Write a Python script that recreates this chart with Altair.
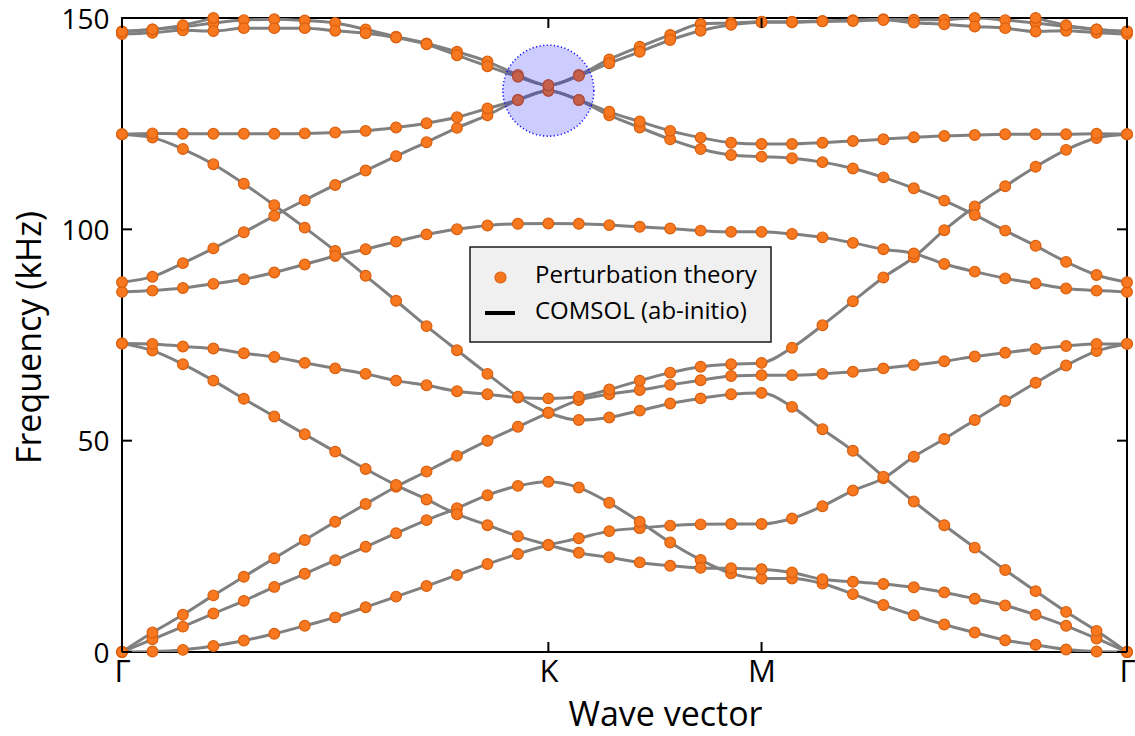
import altair as alt
import pandas as pd

# ---------------- data ----------------
k_index = list(range(34))              # sampling index along the Γ-K-M-Γ path
sym_positions = [0, 14, 21, 33]        # Γ, K, M, Γ
sym_labels = ["Γ", "K", "M", "Γ"]
y_ticks = [0, 50, 100, 150]

band_01 = [0, 0.1, 0.5, 1.4, 2.7, 4.3, 6.2, 8.2, 10.6, 13.1, 15.6, 18.2, 20.8, 23.2, 25.3,
           26.9, 28.6, 29.3, 29.9, 30.2, 30.3, 30.3,
           31.6, 34.5, 38.2, 41.1, 46.2, 50.4, 54.9, 59.4, 63.7, 67.8, 71.2, 72.9]
band_02 = [0, 3.0, 6.0, 9.1, 12.1, 15.4, 18.5, 21.7, 24.9, 28.1, 31.2, 34.0, 37.1, 39.3, 40.3,
           38.9, 35.3, 30.8, 25.9, 21.8, 18.6, 17.4,
           17.4, 16.2, 13.7, 11.1, 8.7, 6.5, 4.6, 2.8, 1.7, 0.6, 0.1, 0]
band_03 = [0, 4.6, 8.8, 13.4, 17.8, 22.2, 26.5, 30.8, 35.0, 39.1, 42.7, 46.4, 50.0, 53.3, 56.6,
           59.6, 61.0, 62.0, 63.2, 64.3, 65.3, 65.5,
           65.5, 65.8, 66.3, 67.1, 67.9, 68.8, 69.9, 70.8, 71.7, 72.4, 72.9, 72.9]
band_04 = [73.0, 71.3, 68.1, 64.2, 59.9, 55.7, 51.5, 47.4, 43.3, 39.5, 36.1, 32.6, 30.0, 27.4, 25.3,
           23.5, 22.4, 21.2, 20.4, 19.9, 19.8, 19.6,
           18.8, 17.2, 16.6, 16.1, 15.3, 14.1, 12.6, 11.0, 8.8, 6.2, 3.2, 0]
band_05 = [73.0, 72.9, 72.3, 71.8, 70.7, 69.8, 68.4, 67.1, 65.8, 64.2, 63.1, 61.7, 61.0, 60.2, 60.0,
           60.4, 62.1, 64.2, 66.1, 67.5, 68.1, 68.4,
           72.0, 77.3, 83.0, 88.6, 93.4, 99.8, 105.4, 110.2, 114.8, 118.8, 121.6, 122.5]
band_06 = [122.5, 121.7, 119.0, 115.4, 110.8, 105.7, 100.4, 94.9, 89.0, 83.1, 77.1, 71.4, 65.8, 60.4, 56.6,
           54.9, 55.5, 57.1, 58.8, 60.0, 61.0, 61.3,
           58.0, 52.7, 47.6, 41.5, 35.6, 30.0, 24.7, 19.4, 14.4, 9.5, 5.0, 0]
band_07 = [85.2, 85.5, 86.1, 87.1, 88.2, 89.8, 91.7, 93.7, 95.3, 97.1, 98.8, 100.0, 100.9, 101.3, 101.4,
           101.3, 101.0, 100.6, 100.2, 99.7, 99.4, 99.4,
           98.9, 98.1, 96.8, 95.3, 94.3, 91.8, 90.0, 88.4, 87.2, 86.0, 85.5, 85.2]
band_08 = [87.5, 88.8, 92.0, 95.5, 99.3, 103.2, 106.9, 110.5, 113.9, 117.3, 120.6, 124.0, 127.0, 130.6, 132.8,
           130.6, 127.0, 124.1, 121.3, 119.0, 117.6, 117.2,
           116.8, 115.9, 114.4, 112.3, 109.7, 106.8, 103.4, 99.7, 96.1, 92.3, 89.2, 87.5]
band_09 = [122.5, 122.7, 122.6, 122.6, 122.6, 122.6, 122.7, 122.9, 123.3, 124.1, 125.1, 126.5, 128.6, 130.6, 132.8,
           130.6, 127.8, 125.5, 123.3, 121.7, 120.5, 120.2,
           120.2, 120.5, 120.9, 121.3, 121.8, 122.1, 122.3, 122.5, 122.5, 122.5, 122.6, 122.5]
band_10 = [146.8, 147.3, 147.9, 148.8, 149.5, 149.7, 149.4, 148.8, 147.3, 145.6, 144.0, 142.0, 139.7, 136.5, 134.1,
           136.5, 140.2, 143.2, 146.0, 148.6, 148.8, 149.1,
           149.1, 149.3, 149.5, 149.7, 149.6, 149.6, 150.0, 149.5, 148.8, 148.0, 147.3, 146.8]
band_11 = [146.2, 146.5, 147.1, 146.9, 147.6, 147.6, 147.6, 147.0, 146.4, 145.4, 143.8, 141.2, 138.6, 136.1, 134.1,
           136.3, 139.3, 142.0, 144.8, 147.0, 148.4, 149.0,
           149.0, 149.2, 149.3, 149.5, 148.9, 148.5, 148.0, 147.6, 146.8, 147.0, 146.5, 146.2]

# band leaving the window (above 150 kHz) near both Γ points
tc_left_k = [0, 1, 2, 3, 4]
tc_left_f = [146.8, 147.3, 148.3, 150.0, 152.0]
tc_right_k = [29, 30, 31, 32, 33]
tc_right_f = [152.0, 150.0, 148.3, 147.3, 146.8]

highlight_k = [14]
highlight_f = [132.8]

legend_labels = ["Perturbation theory", "COMSOL (ab-initio)"]

# ---------------- table ----------------
full_bands = [band_01, band_02, band_03, band_04, band_05, band_06,
              band_07, band_08, band_09, band_10, band_11]
rows = []
for b, vals in enumerate(full_bands):
    for k, f in zip(k_index, vals):
        rows.append({"band": f"b{b+1}", "k": k, "f": f})
for k, f in zip(tc_left_k, tc_left_f):
    rows.append({"band": "tcL", "k": k, "f": f})
for k, f in zip(tc_right_k, tc_right_f):
    rows.append({"band": "tcR", "k": k, "f": f})
df = pd.DataFrame(rows)
df_pts = df[df["f"] <= 150.2]

label_expr = " : ".join(
    [f"datum.value == {p} ? '{l}'" for p, l in zip(sym_positions[1:3], sym_labels[1:3])]
) + " : 'Γ'"

FONT = "Open Sans"
x_axis = alt.Axis(values=sym_positions, labelExpr=label_expr, ticks=False, domain=False, grid=False,
                  labelFontSize=31, labelPadding=5, labelFlush=False, labelColor="black",
                  title="Wave vector", titleFontSize=34, titleFontWeight="normal", titleColor="black",
                  titleX=543, titleY=73, titleBaseline="alphabetic", titleAlign="center")
y_axis = alt.Axis(values=y_ticks, ticks=False, domain=False, grid=False,
                  labelFontSize=28, labelPadding=13, labelFlush=False, labelOffset=2,
                  labelColor="black",
                  title="Frequency (kHz)", titleFontSize=34, titleFontWeight="normal", titleColor="black",
                  titleX=-92, titleY=319, titleAngle=270, titleBaseline="middle", titleAlign="center")

X = alt.X("k:Q", scale=alt.Scale(domain=[0, 33], nice=False, zero=False), axis=x_axis)
Y = alt.Y("f:Q", scale=alt.Scale(domain=[0, 150], nice=False), axis=y_axis)

lines = alt.Chart(df).mark_line(interpolate="monotone", color="#808080", strokeWidth=3,
                                clip=True).encode(x=X, y=Y, detail="band:N")

points = alt.Chart(df_pts).mark_point(filled=True, shape="circle", size=115, fill="#F7781F",
                                      fillOpacity=1, stroke="#D95F0E", strokeWidth=1.2,
                                      strokeOpacity=1).encode(x=X, y=Y)

df_yt = pd.DataFrame({"f": y_ticks})
df_xt = pd.DataFrame({"k": sym_positions})
tick_left = alt.Chart(df_yt).mark_rule(color="black", strokeWidth=2).encode(
    y=Y, x=alt.value(0), x2=alt.value(10))
tick_right = alt.Chart(df_yt).mark_rule(color="black", strokeWidth=2).encode(
    y=Y, x=alt.value(1005), x2=alt.value(995))
tick_bottom = alt.Chart(df_xt).mark_rule(color="black", strokeWidth=2).encode(
    x=X, y=alt.value(634), y2=alt.value(624))
tick_top = alt.Chart(df_xt).mark_rule(color="black", strokeWidth=2).encode(
    x=X, y=alt.value(0), y2=alt.value(10))

df_l1 = pd.DataFrame({"label": [legend_labels[0]]})
df_l2 = pd.DataFrame({"label": [legend_labels[1]]})
leg_box = alt.Chart(df_l1).mark_rect(fill="#F0F0F0", stroke="#1a1a1a", strokeWidth=1.5).encode(
    x=alt.value(348), x2=alt.value(649), y=alt.value(229), y2=alt.value(324))
leg_pt = alt.Chart(df_l1).mark_point(filled=True, shape="circle", size=120, fill="#F7781F",
                                     fillOpacity=1, stroke="#D95F0E", strokeWidth=1.2,
                                     strokeOpacity=1).encode(x=alt.value(378.5), y=alt.value(259.5))
leg_ln = alt.Chart(df_l2).mark_rule(color="black", strokeWidth=4).encode(
    x=alt.value(363), x2=alt.value(393), y=alt.value(295))
leg_t1 = alt.Chart(df_l1).mark_text(align="left", baseline="middle", fontSize=24, color="black").encode(
    x=alt.value(413), y=alt.value(258), text="label:N")
leg_t2 = alt.Chart(df_l2).mark_text(align="left", baseline="middle", fontSize=24, color="black").encode(
    x=alt.value(413), y=alt.value(294), text="label:N")

df_hl = pd.DataFrame({"k": highlight_k, "f": highlight_f})
highlight = alt.Chart(df_hl).mark_point(filled=True, shape="circle", size=8281, fill="#0000FF",
                                        fillOpacity=0.2, stroke="#0000FF", strokeOpacity=0.9,
                                        strokeWidth=1.6, strokeDash=[1.2, 2.4]).encode(x=X, y=Y)

chart = alt.layer(
    lines, points, tick_left, tick_right, tick_bottom, tick_top,
    leg_box, leg_pt, leg_ln, leg_t1, leg_t2, highlight
).properties(
    width=1005, height=634,
    autosize=alt.AutoSizeParams(type="none"),
    padding={"left": 122, "top": 18, "right": 8, "bottom": 84},
    background="white",
).configure(font=FONT).configure_view(stroke="black", strokeWidth=2)

chart.save("out.html", embed_options={"renderer": "svg", "actions": False})
